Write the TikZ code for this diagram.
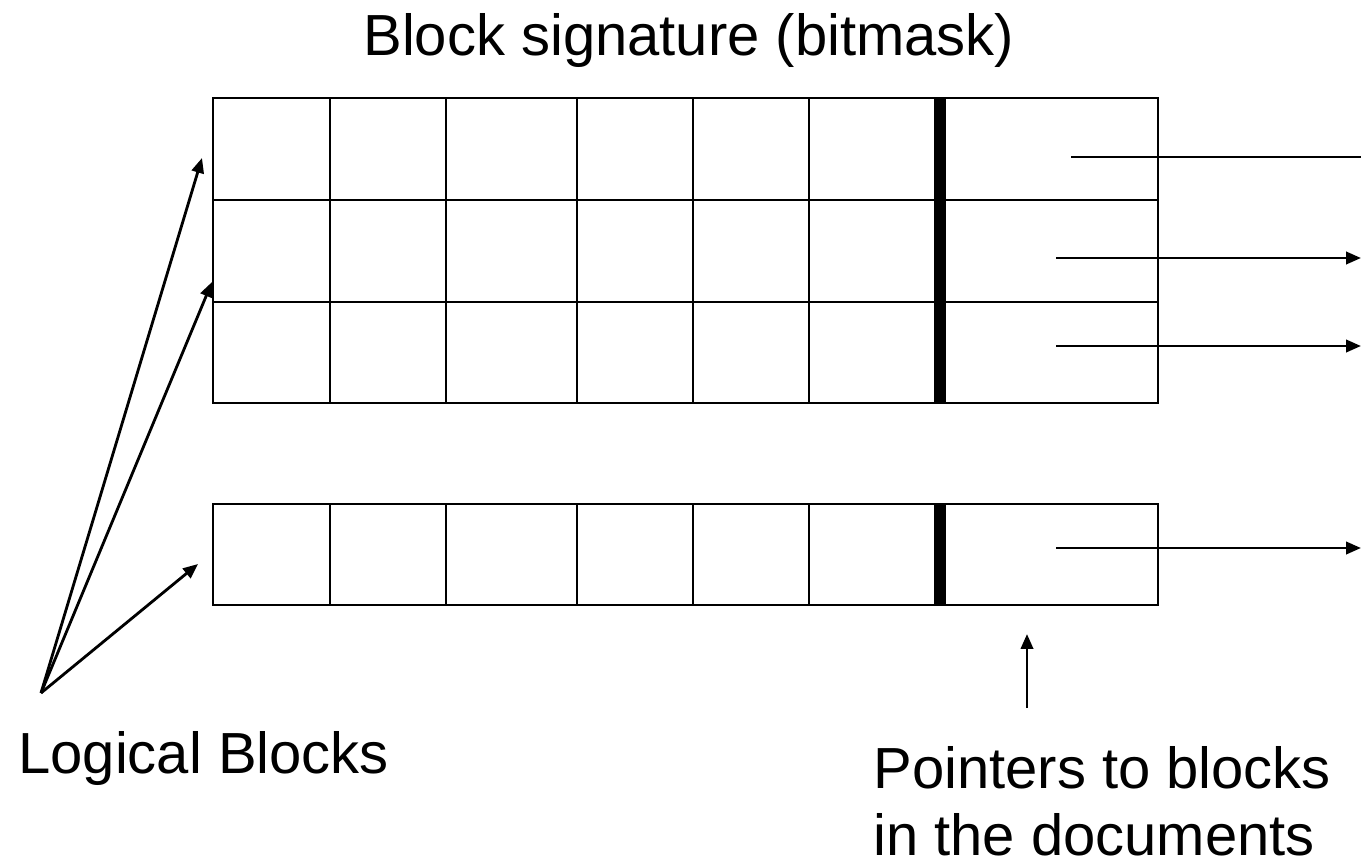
\documentclass[tikz,border=0pt]{standalone}
\usepackage{fontspec}
\setmainfont{Liberation Sans}
\usetikzlibrary{arrows.meta}

\begin{document}
\begin{tikzpicture}[x=0.02cm,y=-0.02cm,
        cell/.style={line width=1.5pt},
        split/.style={line width=6.8pt},
        ptr/.style={line width=1.6pt,-{Triangle[length=8.5pt,width=7pt]}},
        lbl/.style={font=\fontsize{33}{38}\selectfont,inner sep=0pt}
    ]
    \useasboundingbox (0,0) rectangle (1361,865);

    % three signature rows, then one more row further down
    \draw[cell] (213,98) rectangle (1158,403);
    \draw[cell] (213,504) rectangle (1158,605);
    \foreach \y in {200,302}
        \draw[cell] (213,\y) -- (1158,\y);
    \foreach \x in {330,446,577,693,809} {
        \draw[cell] (\x,98) -- (\x,403);
        \draw[cell] (\x,504) -- (\x,605);
    }
    \draw[split] (940,98) -- (940,403) (940,504) -- (940,605);

    % pointers out of the last column
    \coordinate (p1) at (1071,157);
    \coordinate (q1) at (1361,157);
    \foreach \n/\y in {2/258,3/346,4/548} {
        \coordinate (p\n) at (1056,\y);
        \coordinate (q\n) at (1361,\y);
    }
    \draw[cell] (p1) -- (q1);
    \foreach \n in {2,3,4}
        \draw[ptr] (p\n) -- (q\n);

    \node[lbl,anchor=base west] (title) at (363,56) {Block signature (bitmask)};
    \node[lbl,anchor=base west] (logical) at (18,773) {Logical Blocks};
    \node[lbl,anchor=base west,align=left] (pointers) at (873,855)
        {Pointers to blocks\\in the documents};

    % logical blocks point at the rows
    \coordinate (src) at (41,693);
    \coordinate (r1) at (202,158);
    \coordinate (r2) at (212,282);
    \coordinate (r3) at (198,564);
    \foreach \n in {1,2,3}
        \draw[ptr] (src) -- (r\n);

    \coordinate (up0) at (1027,708);
    \coordinate (up1) at (1027,634);
    \draw[ptr] (up0) -- (up1);
\end{tikzpicture}
\end{document}
